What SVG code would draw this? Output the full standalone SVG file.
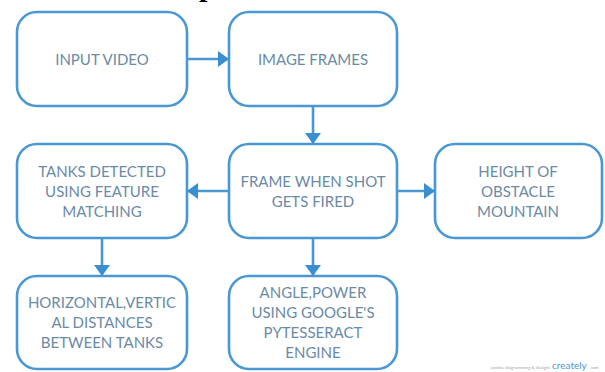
<svg xmlns="http://www.w3.org/2000/svg" width="605" height="372" viewBox="0 0 605 372">
<defs>
<style>
.box{fill:#fff;stroke:#4a98d3;stroke-width:2.6}
.lbl{font-family:Lato,"Open Sans",sans-serif;font-size:15px;fill:#6b8aa6;text-anchor:middle;dominant-baseline:central}
.con{fill:none;stroke:#4a98d3;stroke-width:2.6}
</style>
<marker id="ah" markerUnits="userSpaceOnUse" markerWidth="12" markerHeight="17" refX="11" refY="8" orient="auto" viewBox="0 0 12 17">
<path d="M0 0 L11 8 L0 16 Z" fill="#3a8fd0"/>
</marker>
</defs>
<rect width="605" height="372" fill="#fff"/>
<text x="199" y="-4" font-family="Liberation Serif,serif" font-weight="bold" font-size="30" fill="#000">p</text>
<g id="connectors">
<path class="con" d="M187 59 H229" marker-end="url(#ah)"/>
<path class="con" d="M313 106 V144" marker-end="url(#ah)"/>
<path class="con" d="M229 191 H187" marker-end="url(#ah)"/>
<path class="con" d="M397 191 H435" marker-end="url(#ah)"/>
<path class="con" d="M102 238 V276" marker-end="url(#ah)"/>
<path class="con" d="M313 238 V276" marker-end="url(#ah)"/>
</g>
<g id="input-video">
<rect class="box" x="17" y="12" width="170" height="94" rx="20"/>
<text class="lbl" x="102" y="59">INPUT VIDEO</text>
</g>
<g id="image-frames">
<rect class="box" x="229" y="12" width="168" height="94" rx="20"/>
<text class="lbl" x="313" y="59">IMAGE FRAMES</text>
</g>
<g id="tanks-detected">
<rect class="box" x="17" y="144" width="170" height="94" rx="20"/>
<text class="lbl" x="102" y="171">TANKS DETECTED</text>
<text class="lbl" x="102" y="191">USING FEATURE</text>
<text class="lbl" x="102" y="211">MATCHING</text>
</g>
<g id="frame-shot">
<rect class="box" x="229" y="144" width="168" height="94" rx="20"/>
<text class="lbl" x="313" y="181">FRAME WHEN SHOT</text>
<text class="lbl" x="313" y="201">GETS FIRED</text>
</g>
<g id="height-obstacle">
<rect class="box" x="435" y="144" width="167" height="94" rx="20"/>
<text class="lbl" x="518" y="171">HEIGHT OF</text>
<text class="lbl" x="518" y="191">OBSTACLE</text>
<text class="lbl" x="518" y="211">MOUNTAIN</text>
</g>
<g id="distances">
<rect class="box" x="17" y="276" width="170" height="93" rx="20"/>
<text class="lbl" x="102" y="302">HORIZONTAL,VERTIC</text>
<text class="lbl" x="102" y="322">AL DISTANCES</text>
<text class="lbl" x="102" y="342">BETWEEN TANKS</text>
</g>
<g id="angle-power">
<rect class="box" x="229" y="276" width="168" height="93" rx="20"/>
<text class="lbl" x="313" y="292">ANGLE,POWER</text>
<text class="lbl" x="313" y="312">USING GOOGLE'S</text>
<text class="lbl" x="313" y="332">PYTESSERACT</text>
<text class="lbl" x="313" y="352">ENGINE</text>
</g>
<g id="watermark">
<text x="550" y="369" font-family="Lato,sans-serif" font-size="4.5" fill="#9aa5b0" text-anchor="end">[online diagramming &amp; design]</text>
<text x="552" y="369" font-family="Lato,sans-serif" font-size="10" fill="#4a98d3">creately</text>
<text x="590" y="369" font-family="Lato,sans-serif" font-size="4" fill="#9aa5b0">.com</text>
</g>
</svg>
